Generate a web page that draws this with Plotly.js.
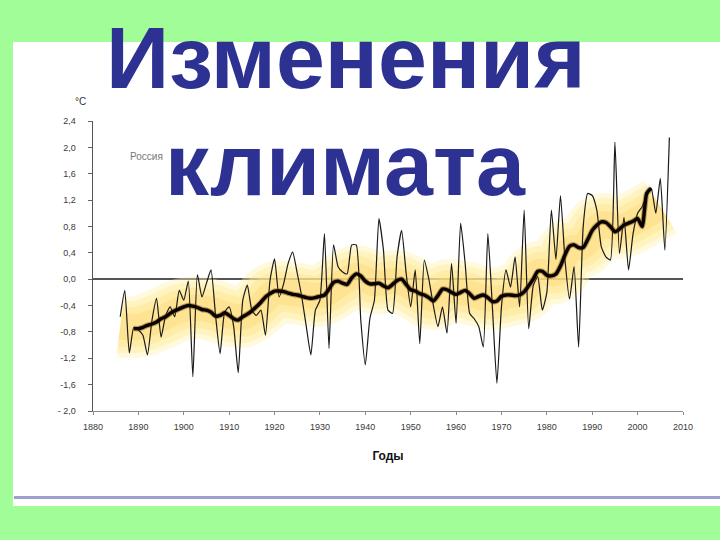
<!DOCTYPE html>
<html>
<head>
<meta charset="utf-8">
<script src="https://cdn.plot.ly/plotly-3.0.1.min.js"></script>
<style>
html,body{margin:0;padding:0;background:#a0fd98;}
#chart{width:720px;height:540px;}
</style>
</head>
<body>
<div id="chart"></div>
<script>
// ---- data ----
const annualYears = [];
for (let y = 1886; y <= 2007; y++) annualYears.push(y);
const annualValues = [
 -0.57,-0.17,-1.12,-0.73,-0.77,-0.85,-1.15,-0.62,-0.29,-0.88, // 1886-1895
 -0.55,-0.42,-0.57,-0.17,-0.32,-0.03,-1.48, 0.07,-0.27,-0.06, // 1896-1905
  0.14,-0.55,-1.13,-0.50,-0.42,-0.72,-1.42,-0.32,-0.09,-0.47, // 1906-1915
 -0.55,-0.47,-0.85,-0.02, 0.31,-0.27,-0.07, 0.24, 0.41, 0.09, // 1916-1925
 -0.27,-0.72,-1.15,-0.47,-0.32, 0.69,-1.05, 0.52, 0.19, 0.11, // 1926-1935
  0.08, 0.52, 0.52,-0.62,-1.30,-0.60,-0.32, 0.92, 0.44,-0.47, // 1936-1945
 -0.52, 0.34, 0.74, 0.09,-0.42, 0.14,-0.98, 0.29, 0.00,-0.40, // 1946-1955
 -0.72,-0.42,-0.82, 0.24,-0.67, 0.85, 0.24,-0.52,-0.60,-0.72, // 1956-1965
 -1.03, 0.69,-0.42,-1.58,-0.42, 0.14,-0.12, 0.34,-0.42, 1.05, // 1966-1975
 -0.75,-0.10, 0.04,-0.47,-0.20, 1.05, 0.30, 1.27, 0.29,-0.30, // 1976-1985
  0.19,-1.03, 0.79, 1.30, 1.27, 1.05, 0.49, 0.34, 0.29, 2.08, // 1986-1995
  0.39, 0.94, 0.14, 0.69, 1.00, 1.10, 1.27, 1.38, 1.00, 1.53, // 1996-2005
  0.44, 2.15                                                   // 2006-2007
];
const smoothYears = [];
for (let y = 1889; y <= 2003; y++) smoothYears.push(y);
const smoothValues = [
 -0.75,-0.75,-0.73,-0.70,-0.68,-0.65,-0.60,-0.57,-0.52,-0.48, // 1889-1898
 -0.45,-0.42,-0.40,-0.41,-0.43,-0.46,-0.47,-0.50,-0.56,-0.55, // 1899-1908
 -0.51,-0.55,-0.60,-0.62,-0.57,-0.53,-0.48,-0.42,-0.35,-0.27, // 1909-1918
 -0.22,-0.18,-0.18,-0.19,-0.21,-0.23,-0.24,-0.26,-0.28,-0.29, // 1919-1928
 -0.28,-0.26,-0.24,-0.15,-0.05,-0.03,-0.06,-0.08, 0.02, 0.08, // 1929-1938
  0.05,-0.03,-0.07,-0.07,-0.06,-0.10,-0.13,-0.08,-0.02, 0.00, // 1939-1948
 -0.08,-0.16,-0.18,-0.22,-0.24,-0.28,-0.33,-0.25,-0.15,-0.16, // 1949-1958
 -0.20,-0.23,-0.20,-0.17,-0.22,-0.29,-0.26,-0.24,-0.28,-0.34, // 1959-1968
 -0.33,-0.26,-0.24,-0.24,-0.25,-0.24,-0.19,-0.10, 0.00, 0.12, // 1969-1978
  0.12, 0.06, 0.05, 0.08, 0.20, 0.37, 0.50, 0.52, 0.48, 0.48, // 1979-1988
  0.60, 0.74, 0.82, 0.87, 0.86, 0.80, 0.72, 0.76, 0.82, 0.85, // 1989-1998
  0.88, 0.92, 0.80, 1.30, 1.38                                 // 1999-2003
];
// centre of the yellow confidence band
const bandYears  = [1886,1890,1895,1900,1905,1910,1913,1917,1920,1925,1930,1935,1938,1942,1947,1952,1955,1958,1962,1968,1972,1975,1978,1982,1985,1988,1992,1996,2000,2005];
const bandCenter = [-0.72,-0.72,-0.60,-0.45,-0.45,-0.55,-0.57,-0.38,-0.20,-0.22,-0.25,-0.05,0.05,-0.06,-0.03,-0.20,-0.30,-0.17,-0.20,-0.30,-0.24,-0.18,0.10,0.10,0.45,0.50,0.83,0.78,0.90,1.10];

const xTickVals = [1880,1890,1900,1910,1920,1930,1940,1950,1960,1970,1980,1990,2000,2010];
const yTickVals = [2.4,2.0,1.6,1.2,0.8,0.4,0.0,-0.4,-0.8,-1.2,-1.6,-2.0];
const yTickText = ['2,4','2,0','1,6','1,2','0,8','0,4','0,0','-0,4','-0,8','-1,2','-1,6','- 2,0'];

const titleLine1 = 'Изменения';
const titleLine2 = 'климата';
const regionLabel = 'Россия';
const xTitle = 'Годы';
const yUnit = '°C';

// ---- traces ----
const bandLayers = [
  {w: 62, c: 'rgba(255,240,170,0.40)'},
  {w: 52, c: 'rgba(255,234,150,0.40)'},
  {w: 40, c: 'rgba(255,226,130,0.40)'},
  {w: 26, c: 'rgba(252,212,110,0.35)'}
];
const traces = [];
bandLayers.forEach(b => traces.push({
  x: bandYears, y: bandCenter, type: 'scatter', mode: 'lines',
  line: {color: b.c, width: b.w, shape: 'spline', smoothing: 1.2},
  hoverinfo: 'skip', showlegend: false
}));
traces.push({
  x: annualYears, y: annualValues, type: 'scatter', mode: 'lines',
  line: {color: '#1a1a1a', width: 1.2, shape: 'spline', smoothing: 0.5},
  showlegend: false
});
traces.push({
  x: smoothYears, y: smoothValues, type: 'scatter', mode: 'lines',
  line: {color: 'rgba(110,55,0,0.45)', width: 5.5, shape: 'spline', smoothing: 0.6},
  hoverinfo: 'skip', showlegend: false
});
traces.push({
  x: smoothYears, y: smoothValues, type: 'scatter', mode: 'lines',
  line: {color: '#050200', width: 3.4, shape: 'spline', smoothing: 0.6},
  showlegend: false
});

// ---- layout ----
const L = 93, R = 683, T = 121, B = 411;
const W = R - L, H = B - T;
const px = x => (x - L) / W;
const py = y => (B - y) / H;

const tickFont = {family: 'Liberation Sans, Arial, sans-serif', size: 9, color: '#3a3a3a'};
const layout = {
  width: 720, height: 540,
  margin: {l: L, r: 720 - R, t: T, b: 540 - B, pad: 0},
  paper_bgcolor: '#a0fd98',
  plot_bgcolor: 'rgba(0,0,0,0)',
  showlegend: false,
  xaxis: {
    range: [1880, 2010], tickvals: xTickVals, ticktext: xTickVals.map(String),
    showgrid: false, zeroline: false,
    showline: true, linecolor: '#8a8a8a', linewidth: 1,
    ticks: 'outside', ticklen: 3, tickcolor: '#8a8a8a',
    tickfont: tickFont, ticklabelstandoff: 4,
    title: {text: xTitle, font: {family: 'Liberation Sans, Arial, sans-serif', size: 12, color: '#111', weight: 'bold'}, standoff: 20}
  },
  yaxis: {
    range: [-2.0, 2.4], tickvals: yTickVals, ticktext: yTickText,
    showgrid: false,
    zeroline: true, zerolinecolor: '#555', zerolinewidth: 2.5,
    showline: true, linecolor: '#555', linewidth: 1.5,
    ticks: 'outside', ticklen: 4, tickcolor: '#666',
    tickfont: tickFont, ticklabelstandoff: 10
  },
  shapes: [
    {type: 'rect', xref: 'paper', yref: 'paper', layer: 'below',
     x0: px(13), x1: px(721), y0: py(506), y1: py(42),
     fillcolor: '#ffffff', line: {width: 0}},
    {type: 'line', xref: 'paper', yref: 'paper', layer: 'below',
     x0: px(14), x1: px(721), y0: py(497.5), y1: py(497.5),
     line: {color: '#a09fd2', width: 3}}
  ],
  annotations: [
    {text: yUnit, xref: 'paper', yref: 'paper', x: px(80), y: py(101),
     showarrow: false, xanchor: 'center', yanchor: 'middle',
     font: {family: 'Liberation Sans, Arial, sans-serif', size: 10, color: '#333'}},
    {text: regionLabel, xref: 'paper', yref: 'paper', x: px(146), y: py(156),
     showarrow: false, xanchor: 'center', yanchor: 'middle',
     font: {family: 'Liberation Sans, Arial, sans-serif', size: 10, color: '#777'}},
    {text: titleLine1, xref: 'paper', yref: 'paper', x: px(346), y: py(57),
     showarrow: false, xanchor: 'center', yanchor: 'middle',
     font: {family: 'Liberation Sans, Arial, sans-serif', size: 88, color: '#2d3192', weight: 'bold'}},
    {text: titleLine2, xref: 'paper', yref: 'paper', x: px(345), y: py(164),
     showarrow: false, xanchor: 'center', yanchor: 'middle',
     font: {family: 'Liberation Sans, Arial, sans-serif', size: 88, color: '#2d3192', weight: 'bold'}}
  ]
};

Plotly.newPlot('chart', traces, layout, {displayModeBar: false, staticPlot: true});
</script>
</body>
</html>
